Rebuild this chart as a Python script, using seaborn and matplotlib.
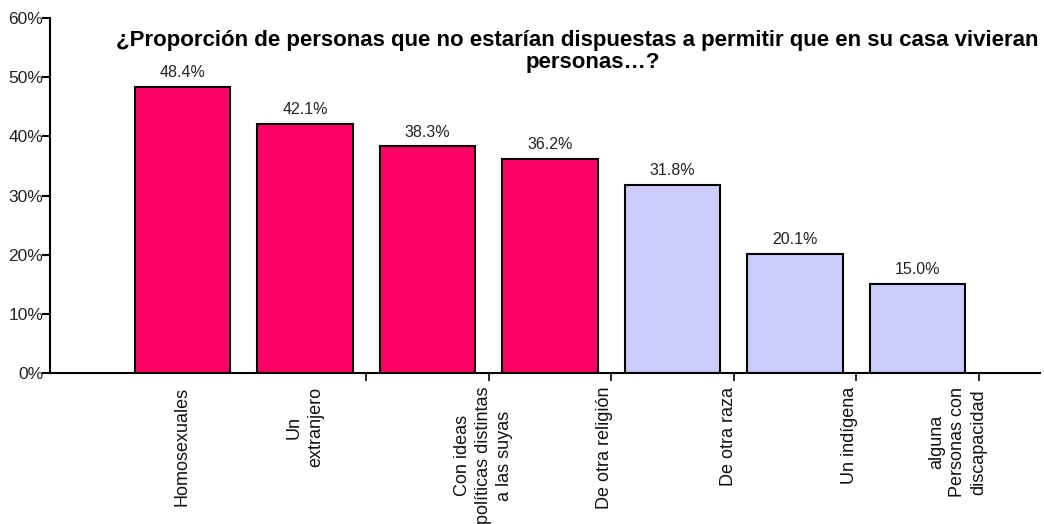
#!/usr/bin/env python3
"""
Bar chart: share of people who would not accept certain groups living in their home.
"""
import matplotlib
matplotlib.use("Agg")
import matplotlib.pyplot as plt
import pandas as pd
import seaborn as sns
from matplotlib.ticker import FixedLocator

categories = [
    "Homosexuales",
    "Un\nextranjero",
    "Con ideas\npolíticas distintas\na las suyas",
    "De otra religión",
    "De otra raza",
    "Un indígena",
    "alguna\nPersonas con\ndiscapacidad",
]
values = [48.4, 42.1, 38.3, 36.2, 31.8, 20.1, 15.0]
groups = ["alto", "alto", "alto", "alto", "bajo", "bajo", "bajo"]
yticks = [0, 10, 20, 30, 40, 50, 60]

title_lines = [
    "¿Proporción de personas que no estarían dispuestas a permitir que en su casa vivieran",
    "personas…?",
]

group_colors = {"alto": "#FF0066", "bajo": "#CCCCFF"}

df = pd.DataFrame({"categoria": categories, "valor": values, "grupo": groups})

sns.set_style("ticks")
plt.rcParams["font.family"] = ["Liberation Sans", "DejaVu Sans"]
plt.rcParams["text.color"] = "black"
plt.rcParams["xtick.color"] = "black"
plt.rcParams["ytick.color"] = "black"

fig = plt.figure(figsize=(10.44, 5.24), dpi=100)
ax = fig.add_axes([0.048, 0.288, 0.948, 0.6775])

sns.barplot(
    data=df, x="categoria", y="valor", hue="categoria",
    palette=[group_colors[g] for g in groups], legend=False, saturation=1,
    width=0.78, edgecolor="black", linewidth=1.5, ax=ax,
)

for i, v in enumerate(values):
    ax.annotate(f"{v:.1f}%", (i, v), xytext=(0, 5), textcoords="offset points",
                ha="center", va="bottom", fontsize=11.5, color="#222222")

ax.set_xlim(-1.08, 7.0)
ax.set_ylim(0, 60)
ax.set_yticks(yticks)
ax.set_yticklabels([f"{t}%" for t in yticks], fontsize=12.5)
ax.tick_params(axis="y", left=True, length=6, width=1.5, color="black", pad=-1,
               direction="out", labelcolor="#222222")

# labels are placed the way the original chart drew them (partly shifted)
label_pos = [0, 1, 2.46, 3.45, 4.46, 5.45, 6.33]
ax.set_xticks(label_pos)
ax.set_xticklabels(categories, rotation=90, fontsize=13, va="top", ha="center",
                   multialignment="center", linespacing=1.3)
ax.tick_params(axis="x", which="major", length=0, pad=10, labelcolor="#111111")
ax.xaxis.set_minor_locator(FixedLocator([1.5, 2.5, 3.5, 4.5, 5.5, 6.5]))
ax.tick_params(axis="x", which="minor", bottom=True, length=6, width=1.2,
               color="black", direction="out")

ax.set_xlabel("")
ax.set_ylabel("")
for side in ["top", "right"]:
    ax.spines[side].set_visible(False)
for side in ["left", "bottom"]:
    ax.spines[side].set_color("black")
    ax.spines[side].set_linewidth(1.5)

fig.text(0.553, 0.922, title_lines[0], ha="center", va="center", fontsize=16,
         fontweight="bold", color="black")
fig.text(0.568, 0.880, title_lines[1], ha="center", va="center", fontsize=16,
         fontweight="bold", color="black")

fig.savefig("out.png", dpi=100)
